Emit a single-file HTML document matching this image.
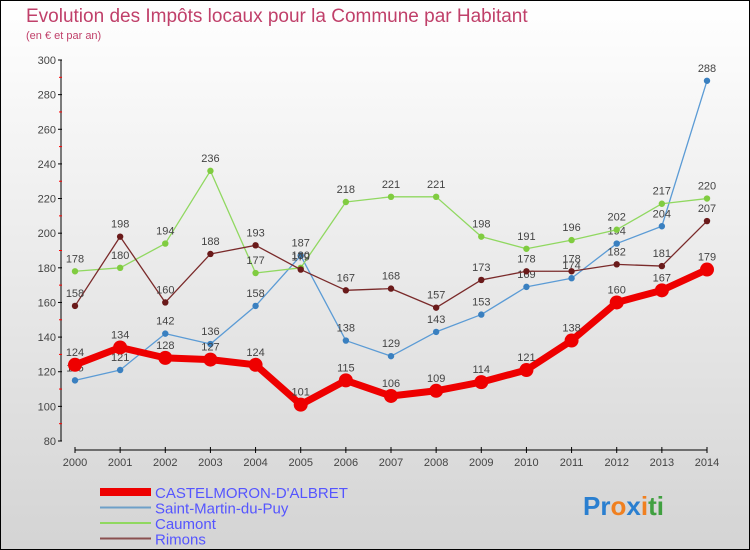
<!DOCTYPE html>
<html><head><meta charset="utf-8"><style>
body{margin:0}
#wrap{width:750px;height:550px;position:relative;box-sizing:border-box;border:1px solid #000;background:linear-gradient(#fff,#d4d4d4);font-family:"Liberation Sans",sans-serif;overflow:hidden}
</style></head><body>
<div id="wrap">
<svg id="chart" width="750" height="550" style="position:absolute;left:-1px;top:-1px">
<text x="26" y="22" font-size="19" fill="#c0406a">Evolution des Impôts locaux pour la Commune par Habitant</text>
<text x="26" y="39" font-size="11" fill="#c0406a">(en € et par an)</text>
<g id="axes"></g><g id="series"></g><g id="legend"></g>
<text x="583" y="515" font-size="26" font-weight="bold"><tspan fill="#2a7fd0">Pr</tspan><tspan fill="#f08020">o</tspan><tspan fill="#2a7fd0">x</tspan><tspan fill="#f08020">i</tspan><tspan fill="#40a040">ti</tspan></text>
</svg>
</div>
<script>
const years=[2000,2001,2002,2003,2004,2005,2006,2007,2008,2009,2010,2011,2012,2013,2014];
const yTicks=[80,100,120,140,160,180,200,220,240,260,280,300];
const castelmoron=[124,134,128,127,124,101,115,106,109,114,121,138,160,167,179];
const saintMartin=[115,121,142,136,158,187,138,129,143,153,169,174,194,204,288];
const caumont=[178,180,194,236,177,180,218,221,221,198,191,196,202,217,220];
const rimons=[158,198,160,188,193,179,167,168,157,173,178,178,182,181,207];
const NS="http://www.w3.org/2000/svg";
const xS=i=>75+i*(632/14);
const yS=v=>441-(v-80)*(381/220);
function mk(tag,attrs,parent,txt){const e=document.createElementNS(NS,tag);for(const k in attrs)e.setAttribute(k,attrs[k]);if(txt!==undefined)e.textContent=txt;parent.appendChild(e);return e;}
const ax=document.getElementById('axes');
let yl=mk('line',{x1:61,y1:yS(300),x2:61,y2:yS(80),stroke:'#000'},ax);


yTicks.forEach((t,i)=>{
 mk('line',{x1:58,x2:62,y1:yS(t),y2:yS(t),stroke:'#000'},ax);
 if(i<yTicks.length-1) mk('line',{x1:59,x2:62,y1:yS(t+10),y2:yS(t+10),stroke:'#f00'},ax);
 const tx=mk('text',{x:56,y:yS(t)+4,'font-size':11,fill:'#444','text-anchor':'end'},ax,t);
 
 
});
let xl=mk('line',{x1:75,y1:450,x2:707,y2:450,stroke:'#000'},ax);


years.forEach((y,i)=>{
 mk('line',{x1:xS(i),x2:xS(i),y1:447,y2:453,stroke:'#000'},ax);
 const tx=mk('text',{x:xS(i),y:466,'font-size':11,fill:'#444','text-anchor':'middle'},ax,y);
 
 
});
const sg=document.getElementById('series');
function draw(vals,color,w,r,name,dot){
 const g=mk('g',{},sg);
 
 
 mk('polyline',{points:vals.map((v,i)=>xS(i)+','+yS(v)).join(' '),fill:'none',stroke:color,'stroke-width':w,'stroke-linejoin':'round'},g);
 vals.forEach((v,i)=>{
  const c=mk('circle',{cx:xS(i),cy:yS(v),r:r,fill:dot,stroke:'none'},g);
  
  
  const t=mk('text',{x:xS(i),y:yS(v)-9,'font-size':11,fill:'#444','text-anchor':'middle'},g,v);
  
  
 });
}
draw(saintMartin,'#5b9bd5',1.3,3.2,'saint-martin-series','#3a80c0');
draw(caumont,'#90d860',1.3,3.2,'caumont-series','#80cc40');
draw(rimons,'#7a2a2a',1.3,3.2,'rimons-series','#6a1a1a');
draw(castelmoron,'#ee0000',7,7,'castelmoron-series','#ee0000');
const lg=document.getElementById('legend');
const items=[['CASTELMORON-D\'ALBRET','#ee0000',8],['Saint-Martin-du-Puy','#6ea0c8',2],['Caumont','#90d860',2],['Rimons','#8a5050',2]];
items.forEach((it,i)=>{
 const y=492+i*15.5;
 const g=mk('g',{},lg);
 
 
 mk('line',{x1:100,x2:151,y1:y,y2:y,stroke:it[1],'stroke-width':it[2]},g);
 mk('text',{x:155,y:y+6,'font-size':15,fill:'#5555ff'},g,it[0]);
});
</script>
</body></html>
